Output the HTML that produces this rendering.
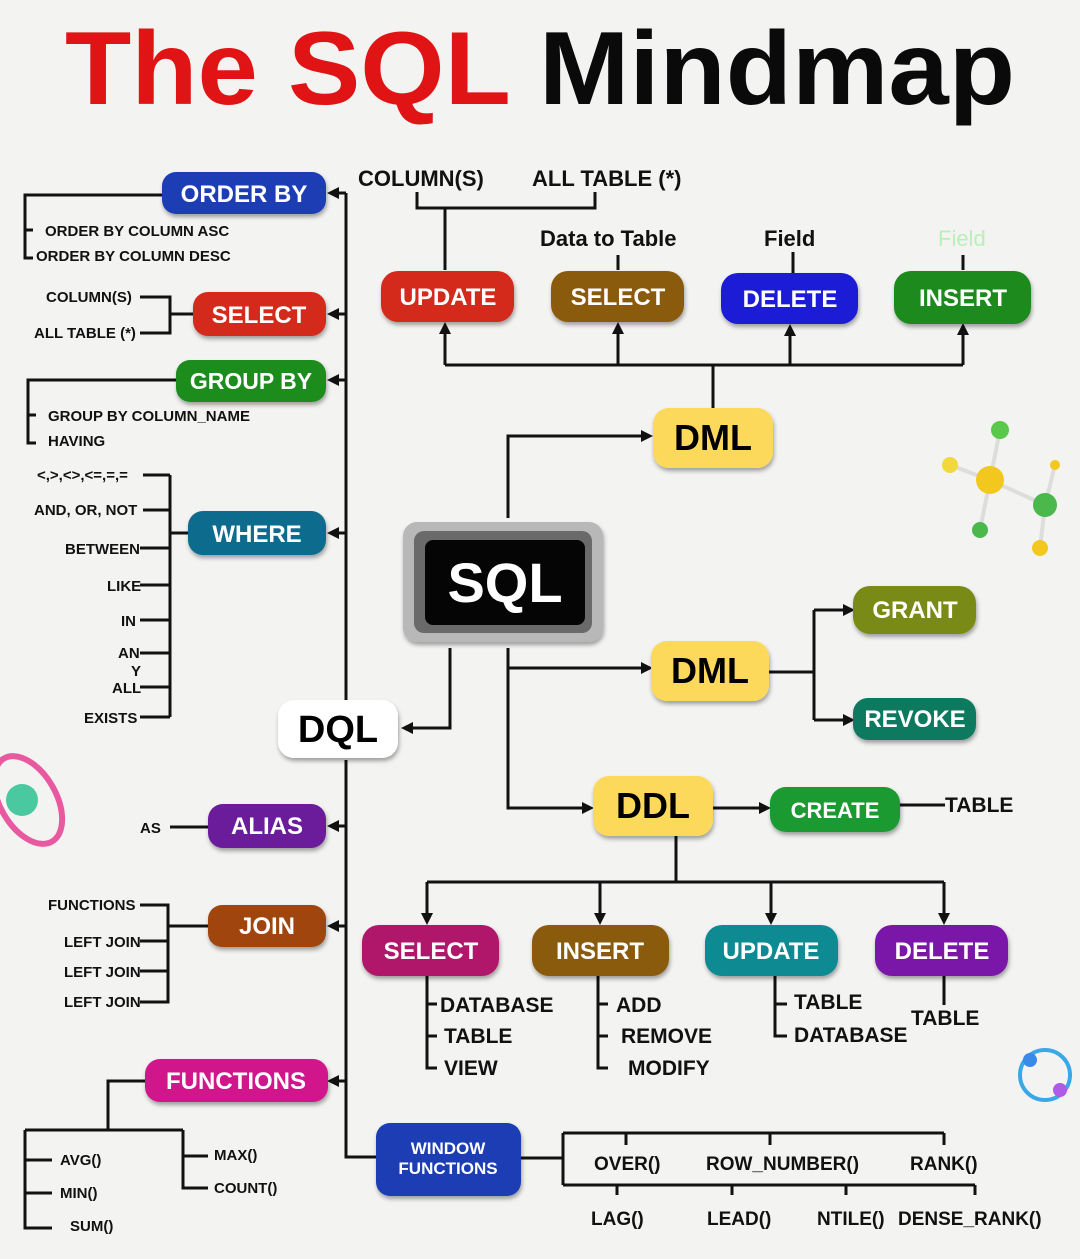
<!DOCTYPE html>
<html><head><meta charset="utf-8"><style>
html,body{margin:0;padding:0;background:#f3f3f2;}
svg{display:block;font-family:"Liberation Sans",sans-serif;}
.p{font-weight:bold;fill:#fff;font-size:24px;text-anchor:middle;}
.s{font-size:15px;font-weight:bold;fill:#111;}
.m{font-size:21px;font-weight:bold;fill:#111;}
</style></head><body>
<svg width="1080" height="1259" viewBox="0 0 1080 1259">
<defs>
<marker id="a" markerWidth="12" markerHeight="12" refX="9" refY="6" orient="auto" markerUnits="userSpaceOnUse"><path d="M0,0 L12,6 L0,12 z" fill="#111"/></marker>
<filter id="sh" x="-10%" y="-10%" width="130%" height="140%"><feDropShadow dx="1" dy="3" stdDeviation="2" flood-opacity="0.35"/></filter>
</defs>
<rect width="1080" height="1259" fill="#f3f3f2"/>
<text x="65" y="104" font-size="104" font-weight="bold" textLength="950" lengthAdjust="spacingAndGlyphs"><tspan fill="#e01414">The SQL </tspan><tspan fill="#0a0a0a">Mindmap</tspan></text>

<g stroke="#111" stroke-width="3" fill="none">
<path d="M346,193 V700 M346,760 V1157 H376"/>
<path d="M346,193 H330" marker-end="url(#a)"/><path d="M346,314 H330" marker-end="url(#a)"/>
<path d="M346,380 H330" marker-end="url(#a)"/><path d="M346,533 H330" marker-end="url(#a)"/>
<path d="M346,826 H330" marker-end="url(#a)"/><path d="M346,926 H330" marker-end="url(#a)"/>
<path d="M346,1081 H330" marker-end="url(#a)"/>
<path d="M450,648 V728 H404" marker-end="url(#a)"/>
<path d="M508,518 V436 H650" marker-end="url(#a)"/>
<path d="M508,648 V668 H650" marker-end="url(#a)"/>
<path d="M508,668 V808 H591" marker-end="url(#a)"/>
<path d="M769,672 H814 M814,610 V720"/>
<path d="M814,610 H852" marker-end="url(#a)"/><path d="M814,720 H852" marker-end="url(#a)"/>
<path d="M713,808 H768" marker-end="url(#a)"/>
<path d="M900,805 H945"/>
<path d="M676,836 V882 M427,882 H944"/>
<path d="M427,882 V922" marker-end="url(#a)"/><path d="M600,882 V922" marker-end="url(#a)"/>
<path d="M771,882 V922" marker-end="url(#a)"/><path d="M944,882 V922" marker-end="url(#a)"/>
<path d="M713,408 V365 M445,365 H963"/>
<path d="M445,365 V325" marker-end="url(#a)"/><path d="M618,365 V325" marker-end="url(#a)"/>
<path d="M790,365 V327" marker-end="url(#a)"/><path d="M963,365 V326" marker-end="url(#a)"/>
<path d="M445,270 V208 M417,192 V208 H595 V192"/>
<path d="M618,255 V270 M793,252 V273 M963,255 V270"/>
<path d="M427,976 V1068 H437 M427,1004 H437 M427,1036 H437"/>
<path d="M598,976 V1068 H608 M598,1004 H608 M598,1036 H608"/>
<path d="M775,976 V1036 H787 M775,1004 H787"/>
<path d="M944,976 V1005"/>
<path d="M521,1158 H563 M563,1133 V1185 M563,1133 H944 M626,1133 V1145 M770,1133 V1145 M944,1133 V1145 M563,1185 H975 M617,1185 V1195 M732,1185 V1195 M846,1185 V1195 M975,1185 V1195"/>
<path d="M162,195 H25 V258 H33 M25,230 H33"/>
<path d="M140,297 H170 V333 H140 M170,314 H193"/>
<path d="M176,380 H28 V443 H36 M28,415 H36"/>
<path d="M170,475 V717 M170,533 H188"/>
<path d="M143,475 H170 M143,510 H170 M140,548 H170 M140,585 H170 M140,620 H170 M140,653 H170 M140,687 H170 M140,717 H170"/>
<path d="M170,827 H208"/>
<path d="M140,905 H168 V1002 H140 M140,941 H168 M140,971 H168 M168,926 H208"/>
<path d="M145,1081 H108 V1130 M25,1130 H183 M25,1130 V1228 H52 M25,1160 H52 M25,1193 H52 M183,1130 V1188 H208 M183,1156 H208"/>
</g>

<g filter="url(#sh)">
<rect x="162" y="172" width="164" height="42" rx="14" fill="#1b3cb4"/>
<rect x="193" y="292" width="133" height="44" rx="15" fill="#d42a1f"/>
<rect x="176" y="360" width="150" height="42" rx="14" fill="#1f8c1f"/>
<rect x="188" y="511" width="138" height="44" rx="15" fill="#0f6c8e"/>
<rect x="278" y="700" width="120" height="58" rx="16" fill="#fff"/>
<rect x="208" y="804" width="118" height="44" rx="15" fill="#6a1b9a"/>
<rect x="208" y="905" width="118" height="42" rx="14" fill="#a0450d"/>
<rect x="145" y="1059" width="183" height="43" rx="15" fill="#d0188a"/>
<rect x="376" y="1123" width="145" height="73" rx="14" fill="#1b3cb4"/>
<rect x="381" y="271" width="133" height="51" rx="17" fill="#d42a1f"/>
<rect x="551" y="271" width="133" height="51" rx="17" fill="#8a5a08"/>
<rect x="721" y="273" width="137" height="51" rx="17" fill="#1a1ad6"/>
<rect x="894" y="271" width="137" height="53" rx="17" fill="#1a8a1a"/>
<rect x="653" y="408" width="120" height="60" rx="16" fill="#fcd95a"/>
<rect x="651" y="641" width="118" height="60" rx="16" fill="#fcd95a"/>
<rect x="853" y="586" width="123" height="48" rx="17" fill="#7a8a12"/>
<rect x="853" y="698" width="123" height="42" rx="15" fill="#0e7a60"/>
<rect x="593" y="776" width="120" height="60" rx="16" fill="#fcd95a"/>
<rect x="770" y="787" width="130" height="45" rx="16" fill="#1a9a30"/>
<rect x="362" y="925" width="137" height="51" rx="17" fill="#b0186a"/>
<rect x="532" y="925" width="137" height="51" rx="17" fill="#8a5a08"/>
<rect x="705" y="925" width="133" height="51" rx="17" fill="#0e8a92"/>
<rect x="875" y="925" width="133" height="51" rx="17" fill="#7a18a8"/>
<rect x="403" y="522" width="200" height="120" rx="14" fill="#b8b8b8"/>
</g>
<rect x="414" y="531" width="178" height="102" rx="10" fill="#6a6a6a"/>
<rect x="425" y="540" width="160" height="85" rx="8" fill="#050505"/>
<text x="505" y="602" font-size="56" font-weight="bold" fill="#fff" text-anchor="middle">SQL</text>

<text class="p" x="244" y="202">ORDER BY</text>
<text class="p" x="259" y="323">SELECT</text>
<text class="p" x="251" y="389" style="font-size:23px">GROUP BY</text>
<text class="p" x="257" y="542">WHERE</text>
<text x="338" y="742" font-size="38" font-weight="bold" fill="#000" text-anchor="middle">DQL</text>
<text class="p" x="267" y="834">ALIAS</text>
<text class="p" x="267" y="934">JOIN</text>
<text class="p" x="236" y="1089">FUNCTIONS</text>
<text class="p" x="448" y="1154" style="font-size:17px">WINDOW</text>
<text class="p" x="448" y="1174" style="font-size:17px">FUNCTIONS</text>
<text class="p" x="448" y="305">UPDATE</text>
<text class="p" x="618" y="305">SELECT</text>
<text class="p" x="790" y="307">DELETE</text>
<text class="p" x="963" y="306">INSERT</text>
<text x="713" y="450" font-size="36" font-weight="bold" fill="#000" text-anchor="middle">DML</text>
<text x="710" y="683" font-size="36" font-weight="bold" fill="#000" text-anchor="middle">DML</text>
<text x="653" y="818" font-size="36" font-weight="bold" fill="#000" text-anchor="middle">DDL</text>
<text class="p" x="915" y="618">GRANT</text>
<text class="p" x="915" y="727">REVOKE</text>
<text class="p" x="835" y="818" style="font-size:22px">CREATE</text>
<text class="p" x="431" y="959">SELECT</text>
<text class="p" x="600" y="959">INSERT</text>
<text class="p" x="771" y="959">UPDATE</text>
<text class="p" x="942" y="959">DELETE</text>

<text class="m" x="358" y="186" style="font-size:22px">COLUMN(S)</text>
<text class="m" x="532" y="186" style="font-size:22px">ALL TABLE (*)</text>
<text class="m" x="540" y="246" style="font-size:22px">Data to Table</text>
<text class="m" x="764" y="246" style="font-size:22px">Field</text>
<text x="938" y="246" font-size="22" fill="#b8f0b8">Field</text>
<text class="m" x="945" y="812">TABLE</text>
<text class="m" x="440" y="1012">DATABASE</text>
<text class="m" x="444" y="1043">TABLE</text>
<text class="m" x="444" y="1075">VIEW</text>
<text class="m" x="616" y="1012">ADD</text>
<text class="m" x="621" y="1043">REMOVE</text>
<text class="m" x="628" y="1075">MODIFY</text>
<text class="m" x="794" y="1009">TABLE</text>
<text class="m" x="794" y="1042">DATABASE</text>
<text class="m" x="911" y="1025">TABLE</text>
<text class="m" x="594" y="1170" style="font-size:19px">OVER()</text>
<text class="m" x="706" y="1170" style="font-size:19px">ROW_NUMBER()</text>
<text class="m" x="910" y="1170" style="font-size:19px">RANK()</text>
<text class="m" x="591" y="1225" style="font-size:19px">LAG()</text>
<text class="m" x="707" y="1225" style="font-size:19px">LEAD()</text>
<text class="m" x="817" y="1225" style="font-size:19px">NTILE()</text>
<text class="m" x="898" y="1225" style="font-size:19px">DENSE_RANK()</text>

<text class="s" x="45" y="236">ORDER BY COLUMN ASC</text>
<text class="s" x="36" y="261">ORDER BY COLUMN DESC</text>
<text class="s" x="46" y="302">COLUMN(S)</text>
<text class="s" x="34" y="338">ALL TABLE (*)</text>
<text class="s" x="48" y="421">GROUP BY COLUMN_NAME</text>
<text class="s" x="48" y="446">HAVING</text>
<text class="s" x="37" y="480">&lt;,&gt;,&lt;&gt;,&lt;=,=,=</text>
<text class="s" x="34" y="515">AND, OR, NOT</text>
<text class="s" x="65" y="554">BETWEEN</text>
<text class="s" x="107" y="591">LIKE</text>
<text class="s" x="121" y="626">IN</text>
<text class="s" x="118" y="658">AN</text>
<text class="s" x="131" y="676">Y</text>
<text class="s" x="112" y="693">ALL</text>
<text class="s" x="84" y="723">EXISTS</text>
<text class="s" x="140" y="833">AS</text>
<text class="s" x="48" y="910">FUNCTIONS</text>
<text class="s" x="64" y="947">LEFT JOIN</text>
<text class="s" x="64" y="977">LEFT JOIN</text>
<text class="s" x="64" y="1007">LEFT JOIN</text>
<text class="s" x="60" y="1165">AVG()</text>
<text class="s" x="60" y="1198">MIN()</text>
<text class="s" x="70" y="1231">SUM()</text>
<text class="s" x="214" y="1160">MAX()</text>
<text class="s" x="214" y="1193">COUNT()</text>

<g stroke="#ddd" stroke-width="4">
<path d="M990,480 L1000,430 M990,480 L950,465 M990,480 L1045,505 M990,480 L980,530 M1045,505 L1040,548 M1045,505 L1055,465"/>
</g>
<circle cx="990" cy="480" r="14" fill="#f2c81e"/><circle cx="1000" cy="430" r="9" fill="#5ac84a"/>
<circle cx="950" cy="465" r="8" fill="#f2d83a"/><circle cx="1045" cy="505" r="12" fill="#4ab84a"/>
<circle cx="980" cy="530" r="8" fill="#4ab84a"/><circle cx="1040" cy="548" r="8" fill="#f2c81e"/>
<circle cx="1055" cy="465" r="5" fill="#f2c81e"/>
<ellipse cx="28" cy="800" rx="28" ry="48" fill="none" stroke="#e85aa0" stroke-width="6" transform="rotate(-30 28 800)"/>
<circle cx="22" cy="800" r="16" fill="#4ac8a0"/>
<circle cx="1045" cy="1075" r="25" fill="none" stroke="#3aa8e8" stroke-width="4"/>
<circle cx="1030" cy="1060" r="7" fill="#3a8ae8"/><circle cx="1060" cy="1090" r="7" fill="#b05ae8"/>
</svg>
</body></html>
